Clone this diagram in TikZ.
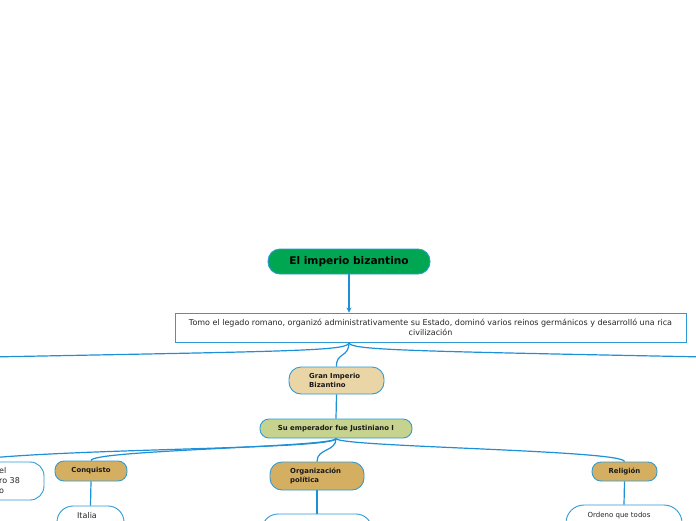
\documentclass[tikz,border=0pt]{standalone}
\usepackage{fontspec}
\setmainfont{DejaVu Sans}
\usetikzlibrary{arrows.meta}
\definecolor{lnblue}{RGB}{30,144,216}
\definecolor{bdblue}{RGB}{46,155,214}
\definecolor{titlegreen}{RGB}{0,166,81}
\definecolor{wheatfill}{RGB}{234,213,167}
\definecolor{olivefill}{RGB}{198,211,142}
\definecolor{goldfill}{RGB}{212,175,98}
\tikzset{
  conn/.style={draw=lnblue, line width=1.2pt},
  pill/.style={draw=bdblue, line width=0.9pt, rounded corners=#1, inner sep=0pt},
  pill/.default=10pt,
  smallbold/.style={font=\fontsize{6.9}{8.5}\selectfont\bfseries, text=black!90},
  plain/.style={font=\fontsize{8}{9.5}\selectfont, text=black!85}
}
\begin{document}
\begin{tikzpicture}[x=1pt,y=-1pt]
\useasboundingbox (0,0) rectangle (696,520);
\clip (0,0) rectangle (696,520);
\fill[white] (0,0) rectangle (696,520);

% nodes
\node[pill=12pt, fill=titlegreen, minimum width=162pt, minimum height=25pt,
      font=\fontsize{10.6}{12}\selectfont\bfseries] (title) at (349,261.5) {El imperio bizantino};
\node[draw=bdblue, line width=0.9pt, fill=white, minimum width=511pt, minimum height=29pt,
      plain, align=center, inner sep=0pt] (legado) at (430.5,327.5)
      {Tomo el legado romano, organizó administrativamente su Estado, dominó varios reinos germánicos y desarrolló una rica\\civilización};
\node[pill=12pt, fill=wheatfill, minimum width=95pt, minimum height=27pt] (gran) at (336.5,380.5) {};
\node[smallbold, align=left, anchor=west, inner sep=0pt] (grant) at (309,380.5) {Gran Imperio\\Bizantino};
\node[pill=9pt, fill=olivefill, minimum width=152pt, minimum height=19pt, smallbold] (emp) at (336,428.5) {Su emperador fue Justiniano I};

\node[pill=14pt, fill=white, minimum width=96pt, minimum height=38pt] (leftn) at (-4,481) {};
\node[anchor=west, align=left, font=\fontsize{8}{10}\selectfont, text=black!85, inner sep=0pt] (leftt) at (-1,481) {el\\ro 38\\o};

\node[pill=9pt, fill=goldfill, minimum width=72pt, minimum height=20pt, smallbold] (conq) at (91,471) {Conquisto};
\node[pill=12pt, fill=goldfill, minimum width=94pt, minimum height=28pt] (org) at (317,476) {};
\node[smallbold, align=left, anchor=west, inner sep=0pt] (orgt) at (290,476) {Organización\\política};
\node[pill=9pt, fill=goldfill, minimum width=65pt, minimum height=19pt, smallbold] (rel) at (624.5,471.5) {Religión};

\node[pill=16pt, fill=white, minimum width=67pt, minimum height=40pt] (italia) at (90.5,526) {};
\node[plain] (italiat) at (87,516) {Italia};
\node[pill=16pt, fill=white, minimum width=110pt, minimum height=40pt] (orgb) at (317,534) {};
\node[pill=18pt, fill=white, minimum width=116pt, minimum height=44pt] (relb) at (624,527) {};
\node[plain, font=\fontsize{7}{8.5}\selectfont] (relbt) at (619,516) {Ordeno que todos};

\coordinate (legN) at (title.south |- legado.north);
\coordinate (legS) at (title.south |- legado.south);
\coordinate (offL) at (-10,357);
\coordinate (offR) at (706,357);
\coordinate (offL2) at (-10,458);

% connectors
\draw[conn, -{Stealth[length=5pt,width=5pt]}] (title.south) -- (legN);
\draw[conn] (legS) .. controls (349,351) and (300,351) .. (offL);
\draw[conn] (legS) .. controls (349,350) and (400,351) .. (offR);
\draw[conn] (legS) .. controls (349,358) and (336,352) .. (gran.north);
\draw[conn] (gran.south) -- (emp.north);
\draw[conn] (emp.south) .. controls (336,449) and (100,448) .. (offL2);
\draw[conn] (emp.south) .. controls (336,447) and (91,450) .. (conq.north);
\draw[conn] (emp.south) .. controls (336,452) and (317,448) .. (org.north);
\draw[conn] (emp.south) .. controls (336,447) and (624,450) .. (rel.north);
\draw[conn] (conq.south) -- (italia.north);
\draw[conn] (org.south) -- (orgb.north);
\draw[conn] (rel.south) -- (relb.north);
\end{tikzpicture}
\end{document}
